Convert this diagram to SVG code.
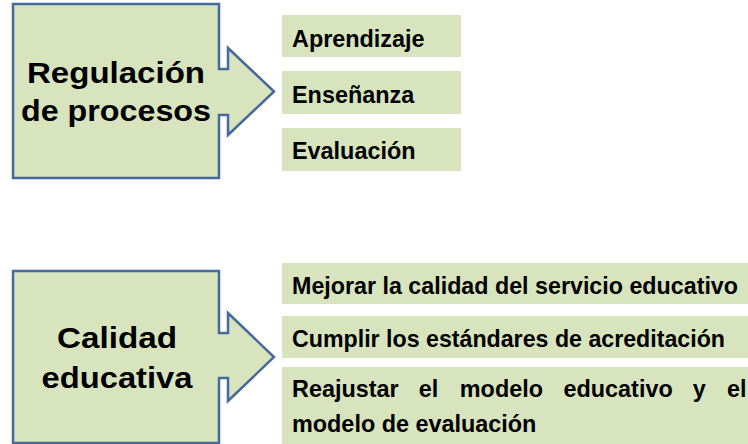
<svg xmlns="http://www.w3.org/2000/svg" width="748" height="444" viewBox="0 0 748 444">
<style>
.big{font-family:"Liberation Sans",Arial,sans-serif;font-weight:bold;font-size:30px;fill:#000;text-anchor:middle}
.sm{font-family:"Liberation Sans",Arial,sans-serif;font-weight:bold;font-size:23.4px;fill:#000}
.callout{fill:#d7e4bd;stroke:#47699b;stroke-width:2.5;stroke-linejoin:miter}
.item{fill:#d7e4bd}
</style>
<rect width="748" height="444" fill="#fff"/>
<g id="regulacion">
<path class="callout" d="M13,4 H219 V69 H228 V48 L274,91.5 L228,135 V115 H219 V178 H13 Z"/>
<text class="big" x="116" y="83" textLength="178" lengthAdjust="spacingAndGlyphs">Regulación</text>
<text class="big" x="116" y="121" textLength="190" lengthAdjust="spacingAndGlyphs">de procesos</text>
</g>
<g id="aprendizaje">
<rect class="item" x="282" y="15" width="179" height="42"/>
<text class="sm" x="292" y="46.5">Aprendizaje</text>
</g>
<g id="ensenanza">
<rect class="item" x="282" y="71" width="179" height="43"/>
<text class="sm" x="292" y="102.5">Enseñanza</text>
</g>
<g id="evaluacion">
<rect class="item" x="282" y="128" width="179" height="43"/>
<text class="sm" x="292" y="159">Evaluación</text>
</g>
<g id="calidad">
<path class="callout" d="M13,271 H219 V333 H228 V313 L274,357 L228,401 V378 H219 V443 H13 Z"/>
<text class="big" x="117" y="348" textLength="120" lengthAdjust="spacingAndGlyphs">Calidad</text>
<text class="big" x="117" y="388" textLength="151" lengthAdjust="spacingAndGlyphs">educativa</text>
</g>
<g id="mejorar">
<rect class="item" x="282" y="263" width="466" height="41"/>
<text class="sm" x="292" y="293.5" textLength="446" lengthAdjust="spacingAndGlyphs">Mejorar la calidad del servicio educativo</text>
</g>
<g id="cumplir">
<rect class="item" x="282" y="316" width="466" height="42"/>
<text class="sm" x="292" y="347" textLength="433" lengthAdjust="spacingAndGlyphs">Cumplir los estándares de acreditación</text>
</g>
<g id="reajustar">
<rect class="item" x="282" y="367" width="466" height="77"/>
<text class="sm" y="397"><tspan x="292">Reajustar</tspan><tspan x="418.7">el</tspan><tspan x="459.8">modelo</tspan><tspan x="563.5">educativo</tspan><tspan x="692.8">y</tspan><tspan x="727">el</tspan></text>
<text class="sm" x="292" y="432">modelo de evaluación</text>
</g>
<g id="connectors"></g>
</svg>
